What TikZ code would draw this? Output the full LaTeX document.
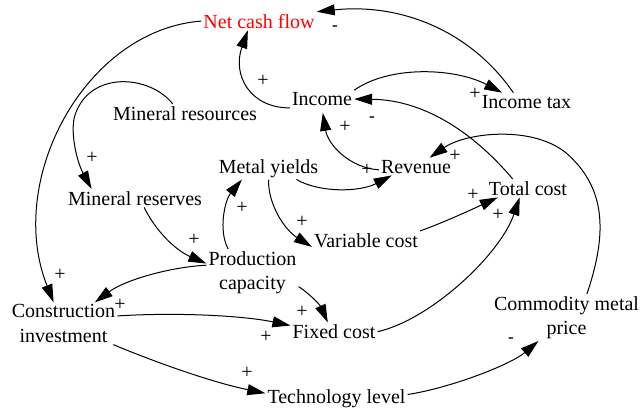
\documentclass[tikz,border=0pt]{standalone}
\usepackage{fontspec}
\setmainfont{Liberation Serif}
\usetikzlibrary{arrows.meta}
\begin{document}
\begin{tikzpicture}[x=1pt,y=-1pt,
  var/.style={font=\fontsize{20}{24.5}\selectfont, inner sep=2pt, anchor=base},
  var2/.style={font=\fontsize{20}{24.5}\selectfont, inner sep=2pt, align=center},
  pol/.style={font=\fontsize{20}{24}\selectfont, inner sep=0pt},
  neg/.style={font=\fontsize{17}{20}\selectfont\bfseries, inner sep=0pt},
  link/.style={-{Triangle[length=18pt,width=11pt]}, line width=1pt}]
\useasboundingbox (0,0) rectangle (641,408);

% variables
\node[var, text=red] (ncf) at (259,28)    {Net cash flow};
\node[var] (inc) at (322,105.5)  {Income};
\node[var] (tax) at (526.5,108)  {Income tax};
\node[var] (res) at (185,120)    {Mineral resources};
\node[var] (rsv) at (135,205)    {Mineral reserves};
\node[var] (yld) at (268.5,173)  {Metal yields};
\node[var] (rev) at (416,173)    {Revenue};
\node[var] (tc)  at (528,195)    {Total cost};
\node[var] (vc)  at (366,247)    {Variable cost};
\node[var] (fc)  at (334,338.5)  {Fixed cost};
\node[var] (tl)  at (336.5,403)  {Technology level};
\node[var2] (pc)  at (252.5,272.5) {Production\\capacity};
\node[var2] (ci)  at (63.5,323.5)  {Construction\\investment};
\node[var2] (cmp) at (566.5,317.5) {Commodity metal\\price};

% causal links
\draw[link] (ncf.west) .. controls (85,30) and (5,180) .. (ci.115);
\draw[link] (inc.south west) .. controls (250,108) and (232,75) .. (ncf.220);
\draw[link] (tax.146) .. controls (470,30) and (400,3) .. (ncf.north east);
\draw[link] (inc.north east) .. controls (390,65) and (455,68) .. (tax.160);
\draw[link] (tc.149) .. controls (480,140) and (430,100) .. (inc.east);
\draw[link, shorten >=5pt] (rev.185) .. controls (350,168) and (328,145) .. (inc.south);
\draw[link] (cmp.49) .. controls (605,240) and (610,190) .. (565,152)
            .. controls (530,125) and (465,133) .. (rev.33);
\draw[link] (res.143) .. controls (150,75) and (90,70) .. (75,115)
            .. controls (70,130) and (76,160) .. (rsv.168);
\draw[link] (rsv.-45) .. controls (155,230) and (175,250) .. (pc.169);
\draw[link] (pc.136) .. controls (218,230) and (225,200) .. (yld.203);
\draw[link] (yld.south) .. controls (268,205) and (285,230) .. (vc.187);
\draw[link] (yld.-22) .. controls (320,193) and (360,192) .. (rev.200);
\draw[link] (vc.north east) .. controls (445,222) and (475,208) .. (tc.197);
\draw[link] (fc.east) .. controls (430,320) and (500,255) .. (tc.228);
\draw[link] (pc.171) .. controls (170,267) and (125,280) .. (ci.34);
\draw[link] (ci.8) .. controls (180,312) and (245,316) .. (fc.172);
\draw[link] (pc.-17) .. controls (310,294) and (320,305) .. (fc.124);
\draw[link] (ci.-23) .. controls (150,360) and (210,382) .. (tl.176);
\draw[link] (tl.3) .. controls (450,388) and (510,365) .. (cmp.220);

% polarities
\node[pol] (s1)  at (60,275)  {+};
\node[pol] (s2)  at (263,81)  {+};
\node[neg] (s3)  at (335,28.5) {-};
\node[pol] (s4)  at (475,94)  {+};
\node[neg] (s5)  at (372,119.5) {-};
\node[pol] (s6)  at (345,127) {+};
\node[pol] (s7)  at (367,170) {+};
\node[pol] (s8)  at (455,156) {+};
\node[pol] (s9)  at (92,158)  {+};
\node[pol] (s10) at (194,240) {+};
\node[pol] (s11) at (242,208) {+};
\node[pol] (s12) at (302,222) {+};
\node[pol] (s13) at (473,195) {+};
\node[pol] (s14) at (498,215) {+};
\node[pol] (s15) at (120,305) {+};
\node[pol] (s16) at (266,337) {+};
\node[pol] (s17) at (302,312) {+};
\node[pol] (s18) at (247,373) {+};
\node[neg] (s19) at (511,340.5) {-};
\end{tikzpicture}
\end{document}
